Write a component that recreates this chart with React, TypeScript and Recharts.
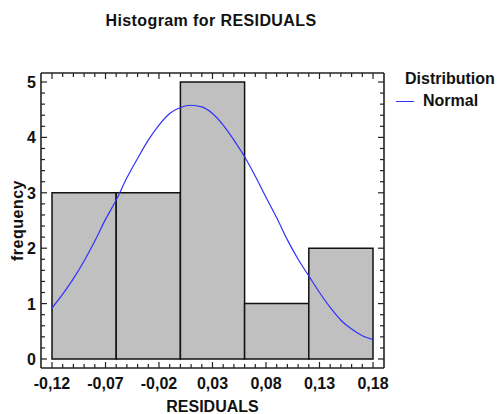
import React from 'react';
import { ComposedChart, Line, XAxis, YAxis, ReferenceArea, Legend } from 'recharts';

// histogram bins (RESIDUALS) and counts
const binStarts = [-0.12, -0.06, 0.0, 0.06, 0.12];
const binEnds = [-0.06, 0.0, 0.06, 0.12, 0.18];
const binCounts = [3, 3, 5, 1, 2];

// fitted normal curve
const curveX = [
    -0.12, -0.11, -0.1, -0.09, -0.08, -0.07, -0.06, -0.05, -0.04, -0.03, -0.02, -0.01, 0.0, 0.01, 0.02, 0.03,
    0.04, 0.05, 0.06, 0.07, 0.08, 0.09, 0.1, 0.11, 0.12, 0.13, 0.14, 0.15, 0.16, 0.17, 0.18,
];
const curveY = [
    0.92, 1.17, 1.45, 1.77, 2.13, 2.52, 2.87, 3.27, 3.62, 3.95, 4.22, 4.43, 4.54, 4.58, 4.55, 4.43,
    4.22, 3.95, 3.65, 3.3, 2.92, 2.55, 2.15, 1.8, 1.5, 1.2, 0.93, 0.7, 0.54, 0.42, 0.35,
];

const xMajorTicks = [-0.12, -0.07, -0.02, 0.03, 0.08, 0.13, 0.18];
const xTickLabels = ['-0,12', '-0,07', '-0,02', '0,03', '0,08', '0,13', '0,18'];
const xMinorTicks = [
    -0.12, -0.11, -0.1, -0.09, -0.08, -0.07, -0.06, -0.05, -0.04, -0.03, -0.02, -0.01, 0.0, 0.01, 0.02, 0.03,
    0.04, 0.05, 0.06, 0.07, 0.08, 0.09, 0.1, 0.11, 0.12, 0.13, 0.14, 0.15, 0.16, 0.17, 0.18,
];
const yMajorTicks = [0, 1, 2, 3, 4, 5];
const yTickLabels = ['0', '1', '2', '3', '4', '5'];
const yMinorTicks = [
    0, 0.2, 0.4, 0.6, 0.8, 1, 1.2, 1.4, 1.6, 1.8, 2, 2.2, 2.4, 2.6, 2.8, 3, 3.2, 3.4, 3.6, 3.8, 4, 4.2, 4.4,
    4.6, 4.8, 5,
];

const curveData = curveX.map((x, i) => ({ x, y: curveY[i] }));

const FONT = '"Liberation Sans", Arial, sans-serif';
const TEXT = '#111';
const FRAME = '#222';
const CURVE = '#3030ff';

const majorIndex = (ticks: number[], v: number) => ticks.findIndex((t) => Math.abs(t - v) < 1e-6);

// ticks point into the frame, labels sit outside
const BottomTick: React.FC<any> = ({ x, y, payload }) => {
    const idx = majorIndex(xMajorTicks, payload.value);
    const len = idx >= 0 ? 6 : 4;
    return (
        <g>
            <line x1={x} y1={y} x2={x} y2={y - len} stroke={FRAME} strokeWidth={1.2} />
            {idx >= 0 && (
                <text x={x} y={y + 21} textAnchor="middle" fontFamily={FONT} fontWeight="bold" fontSize={16} fill={TEXT}>
                    {xTickLabels[idx]}
                </text>
            )}
        </g>
    );
};

const TopTick: React.FC<any> = ({ x, y, payload }) => {
    const len = majorIndex(xMajorTicks, payload.value) >= 0 ? 6 : 4;
    return <line x1={x} y1={y} x2={x} y2={y + len} stroke={FRAME} strokeWidth={1.2} />;
};

const LeftTick: React.FC<any> = ({ x, y, payload }) => {
    const idx = majorIndex(yMajorTicks, payload.value);
    const len = idx >= 0 ? 6 : 4;
    return (
        <g>
            <line x1={x} y1={y} x2={x + len} y2={y} stroke={FRAME} strokeWidth={1.2} />
            {idx >= 0 && (
                <text x={x - 5} y={y + 6} textAnchor="end" fontFamily={FONT} fontWeight="bold" fontSize={16} fill={TEXT}>
                    {yTickLabels[idx]}
                </text>
            )}
        </g>
    );
};

const RightTick: React.FC<any> = ({ x, y, payload }) => {
    const len = majorIndex(yMajorTicks, payload.value) >= 0 ? 6 : 4;
    return <line x1={x} y1={y} x2={x - len} y2={y} stroke={FRAME} strokeWidth={1.2} />;
};

const XTitle: React.FC<any> = ({ viewBox }) => (
    <text
        x={viewBox.x + viewBox.width / 2}
        y={viewBox.y + 44}
        textAnchor="middle"
        fontFamily={FONT}
        fontWeight="bold"
        fontSize={16}
        fill={TEXT}
    >
        RESIDUALS
    </text>
);

const YTitle: React.FC<any> = ({ viewBox }) => {
    const cx = viewBox.x + viewBox.width - 18;
    const cy = viewBox.y + viewBox.height / 2;
    return (
        <text
            x={cx}
            y={cy}
            transform={`rotate(-90, ${cx}, ${cy})`}
            textAnchor="middle"
            fontFamily={FONT}
            fontWeight="bold"
            fontSize={16}
            letterSpacing={0.5}
            fill={TEXT}
        >
            frequency
        </text>
    );
};

const LegendBox: React.FC<any> = () => (
    <div style={{ fontFamily: FONT, fontWeight: 'bold', fontSize: 16, color: TEXT, lineHeight: '22px' }}>
        <div style={{ paddingLeft: 9 }}>Distribution</div>
        <div style={{ display: 'flex', alignItems: 'center' }}>
            <span style={{ display: 'inline-block', width: 18, borderTop: `1.5px solid ${CURVE}`, marginRight: 9 }} />
            Normal
        </div>
    </div>
);

const App: React.FC = () => {
    return (
        <div style={{ position: 'absolute', left: 0, top: 0, width: 497, height: 414, background: 'white' }}>
            <div
                style={{
                    position: 'absolute',
                    left: 0,
                    top: 12,
                    width: 422,
                    textAlign: 'center',
                    fontFamily: FONT,
                    fontWeight: 'bold',
                    fontSize: 16,
                    letterSpacing: 0.4,
                    color: TEXT,
                    lineHeight: '18px',
                }}
            >
                Histogram for RESIDUALS
            </div>
            <ComposedChart
                width={497}
                height={414}
                data={curveData}
                margin={{ top: 63, right: 103, bottom: 16, left: 11 }}
            >
                <XAxis
                    dataKey="x"
                    type="number"
                    domain={[-0.12, 0.18]}
                    ticks={xMinorTicks}
                    interval={0}
                    height={30}
                    padding={{ left: 11, right: 11 }}
                    tickSize={0}
                    tickMargin={0}
                    tickLine={false}
                    tick={<BottomTick />}
                    axisLine={{ stroke: FRAME, strokeWidth: 1.6 }}
                    allowDataOverflow
                    label={<XTitle />}
                />
                <XAxis
                    xAxisId="top"
                    orientation="top"
                    dataKey="x"
                    type="number"
                    domain={[-0.12, 0.18]}
                    ticks={xMinorTicks}
                    interval={0}
                    height={10}
                    padding={{ left: 11, right: 11 }}
                    tickSize={0}
                    tickMargin={0}
                    tickLine={false}
                    tick={<TopTick />}
                    axisLine={{ stroke: FRAME, strokeWidth: 1.6 }}
                    allowDataOverflow
                />
                <YAxis
                    type="number"
                    domain={[0, 5]}
                    ticks={yMinorTicks}
                    interval={0}
                    width={30}
                    padding={{ top: 9, bottom: 9 }}
                    tickSize={0}
                    tickMargin={0}
                    tickLine={false}
                    tick={<LeftTick />}
                    axisLine={{ stroke: FRAME, strokeWidth: 1.6 }}
                    allowDataOverflow
                    label={<YTitle />}
                />
                <YAxis
                    yAxisId="right"
                    orientation="right"
                    type="number"
                    domain={[0, 5]}
                    ticks={yMinorTicks}
                    interval={0}
                    width={10}
                    padding={{ top: 9, bottom: 9 }}
                    tickSize={0}
                    tickMargin={0}
                    tickLine={false}
                    tick={<RightTick />}
                    axisLine={{ stroke: FRAME, strokeWidth: 1.6 }}
                    allowDataOverflow
                />
                {binCounts.map((count, i) => (
                    <ReferenceArea
                        key={`bin-${i}`}
                        x1={binStarts[i]}
                        x2={binEnds[i]}
                        y1={0}
                        y2={count}
                        fill="#c0c0c0"
                        fillOpacity={1}
                        stroke="#111"
                        strokeWidth={1.5}
                        ifOverflow="visible"
                    />
                ))}
                <Line
                    type="monotone"
                    dataKey="y"
                    stroke={CURVE}
                    strokeWidth={1.2}
                    dot={false}
                    activeDot={false}
                    isAnimationActive={false}
                />
                <Legend
                    layout="horizontal"
                    align="center"
                    verticalAlign="middle"
                    content={<LegendBox />}
                    wrapperStyle={{ left: 396, top: 68, width: 101, height: 46 }}
                />
            </ComposedChart>
        </div>
    );
};

export default App;
